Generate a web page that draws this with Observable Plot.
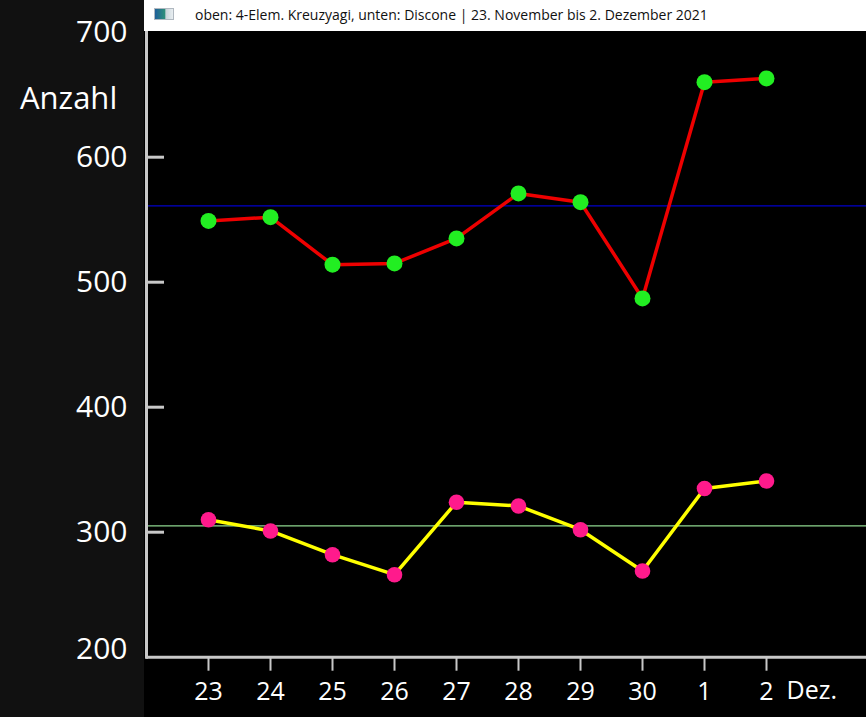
<!DOCTYPE html>
<html>
<head>
<meta charset="utf-8">
<script src="https://cdn.jsdelivr.net/npm/d3@7"></script>
<script src="https://cdn.jsdelivr.net/npm/@observablehq/plot@0.6"></script>
<style>
  html, body { margin: 0; padding: 0; background: #000; overflow: hidden; }
  #wrap { position: relative; width: 866px; height: 717px; }
  #leftpanel { position: absolute; left: 0; top: 0; width: 144px; height: 717px; background: #111111; }
  #titlebar { position: absolute; left: 144px; top: 0; width: 722px; height: 31px; background: #ffffff; z-index: 3; }
  #icon { position: absolute; left: 10px; top: 8px; width: 18px; height: 10px;
          background: linear-gradient(90deg, #1f5f9a 0%, #2e8f7a 55%, #c9d3d9 60%, #e8eef1 100%); border: 1px solid #b0b8c0; }
  #titletext { position: absolute; left: 51px; top: 5px; font: 14px "Open Sans", sans-serif; color: #111; white-space: nowrap; }
  #ylabel { position: absolute; left: 20px; top: 76px; font: 31px "Open Sans", sans-serif; color: #fff; z-index: 2; }
  #chart { position: absolute; left: 0; top: 0; z-index: 1; }
</style>
</head>
<body>
<div id="wrap">
  <div id="leftpanel"></div>
  <div id="chart"></div>
  <div id="titlebar"><div id="icon"></div><div id="titletext"></div></div>
  <div id="ylabel"></div>
</div>
<script>
// ---- data ----
const titleText = "oben: 4-Elem. Kreuzyagi, unten: Discone | 23. November bis 2. Dezember 2021";
const yAxisLabel = "Anzahl";
const days = ["23", "24", "25", "26", "27", "28", "29", "30", "1", "2"];
const monthLabel = "Dez.";
const kreuzyagi = [549, 552, 514, 515, 535, 571, 564, 487, 660, 663];
const discone   = [310, 301, 282, 266, 324, 321, 302, 269, 335, 341];
const yTicks = [300, 400, 500, 600, 700];
const yBottomTick = [200];
const yInnerTicks = [300, 400, 500, 600];

document.getElementById("titletext").textContent = titleText;
document.getElementById("ylabel").textContent = yAxisLabel;

const topSeries = days.map((d, i) => ({day: d, value: kreuzyagi[i]}));
const bottomSeries = days.map((d, i) => ({day: d, value: discone[i]}));
const meanTop = d3.mean(kreuzyagi);
const meanBottom = d3.mean(discone);
const yDomain = [200, 700];

const chart = Plot.plot({
  width: 866,
  height: 717,
  marginLeft: 146,
  marginRight: 0,
  marginTop: 31.7,
  marginBottom: 60.3,
  style: { background: "transparent", color: "#fff", fontFamily: "'Open Sans', sans-serif", overflow: "visible" },
  x: { type: "point", domain: days, padding: 1.26, align: 0.385, axis: null },
  y: { domain: yDomain, axis: null },
  marks: [
    // mean reference lines
    Plot.ruleY([meanTop], { stroke: "#0000cc", strokeWidth: 1.2 }),
    Plot.ruleY([meanBottom], { stroke: "#8fd88f", strokeWidth: 1.2 }),
    // axes lines
    Plot.ruleY([yDomain[0]], { stroke: "#c8c8c8", strokeWidth: 3 }),
    Plot.frame({ anchor: "left", stroke: "#c8c8c8", strokeWidth: 3 }),
    // inner y ticks
    Plot.ruleY(yInnerTicks, { stroke: "#c8c8c8", strokeWidth: 3, insetRight: 702 }),
    // y tick labels
    Plot.axisY({ ticks: yTicks, tickSize: 0, tickPadding: 19, fontSize: 30, color: "#fff", label: null, textStroke: "none" }),
    Plot.axisY({ ticks: yBottomTick, tickSize: 0, tickPadding: 19, dy: -8, fontSize: 30, color: "#fff", label: null, textStroke: "none" }),
    // x ticks and labels
    Plot.axisX({ tickSize: 14, tickPadding: 11, fontSize: 25, stroke: "#c8c8c8", strokeWidth: 2, color: "#fff", label: null }),
    Plot.text([{day: days[days.length - 1], t: monthLabel}], {
      x: "day", text: "t", frameAnchor: "bottom", dy: 34, dx: 20, textAnchor: "start", lineAnchor: "middle",
      fontSize: 25, fill: "#fff"
    }),
    // series
    Plot.line(topSeries, { x: "day", y: "value", stroke: "#ee0000", strokeWidth: 3.5 }),
    Plot.dot(topSeries, { x: "day", y: "value", r: 8, fill: "#22ee22", stroke: "none" }),
    Plot.line(bottomSeries, { x: "day", y: "value", stroke: "#ffff00", strokeWidth: 3.5 }),
    Plot.dot(bottomSeries, { x: "day", y: "value", r: 7.8, fill: "#ff1a8c", stroke: "none" })
  ]
});
document.getElementById("chart").appendChild(chart);
</script>
</body>
</html>
